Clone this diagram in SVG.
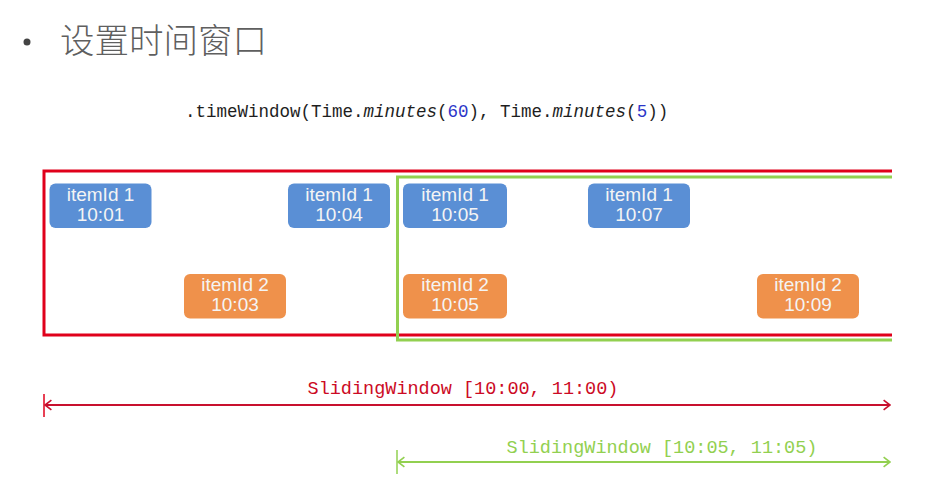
<svg xmlns="http://www.w3.org/2000/svg" width="947" height="483" viewBox="0 0 947 483">
<defs>
<style>
.title{font-family:"Noto Sans CJK SC","Noto Sans",sans-serif;font-size:34.5px;fill:#5f5f5f;font-weight:300}
.code{font-family:"Liberation Mono","DejaVu Sans Mono",monospace;font-size:17.5px;fill:#1e1e1e}
.num{fill:#2b35c8}
.it{font-style:italic}
.box text{font-family:"Liberation Sans",Arial,sans-serif;font-size:19px;fill:#f4f4f4;text-anchor:middle}
.blue rect{fill:#5a8fd5}
.orange rect{fill:#ef914b}
.lbl{font-family:"Liberation Mono","DejaVu Sans Mono",monospace;font-size:18.5px}
</style>
<marker id="ar" viewBox="0 0 10 14" refX="9" refY="7" markerWidth="8" markerHeight="12" markerUnits="userSpaceOnUse" orient="auto-start-reverse">
<path d="M1,1 L9,7 L1,13" fill="none" stroke="#c8102e" stroke-width="2"/>
</marker>
<marker id="ag" viewBox="0 0 10 14" refX="9" refY="7" markerWidth="8" markerHeight="12" markerUnits="userSpaceOnUse" orient="auto-start-reverse">
<path d="M1,1 L9,7 L1,13" fill="none" stroke="#92d050" stroke-width="2"/>
</marker>
</defs>
<rect width="947" height="483" fill="#ffffff"/>

<g id="heading">
<circle cx="27" cy="42" r="3.5" fill="#444"/>
<text class="title" x="60" y="53">设置时间窗口</text>
</g>

<g id="code">
<text class="code" x="185" y="117">.timeWindow(Time.<tspan class="it">minutes</tspan>(<tspan class="num">60</tspan>), Time.<tspan class="it">minutes</tspan>(<tspan class="num">5</tspan>))</text>
</g>

<g id="window1">
<path d="M892,171 H44 V335 H892" fill="none" stroke="#e0001b" stroke-width="3"/>
</g>
<g id="window2">
<path d="M892,177 H397.5 V340 H892" fill="none" stroke="#92d050" stroke-width="3"/>
</g>

<g id="e1" class="box blue"><rect x="49.5" y="183.5" width="102" height="44.5" rx="6"/><text x="100.5" y="201">itemId 1</text><text x="100.5" y="221">10:01</text></g>
<g id="e2" class="box blue"><rect x="288" y="183.5" width="102" height="44.5" rx="6"/><text x="339" y="201">itemId 1</text><text x="339" y="221">10:04</text></g>
<g id="e3" class="box blue"><rect x="403" y="183.5" width="104" height="44.5" rx="6"/><text x="455" y="201">itemId 1</text><text x="455" y="221">10:05</text></g>
<g id="e4" class="box blue"><rect x="588" y="183.5" width="102" height="44.5" rx="6"/><text x="639" y="201">itemId 1</text><text x="639" y="221">10:07</text></g>
<g id="e5" class="box orange"><rect x="184" y="274" width="102" height="44.5" rx="6"/><text x="235" y="291">itemId 2</text><text x="235" y="311">10:03</text></g>
<g id="e6" class="box orange"><rect x="403" y="274" width="104" height="44.5" rx="6"/><text x="455" y="291">itemId 2</text><text x="455" y="311">10:05</text></g>
<g id="e7" class="box orange"><rect x="757" y="274" width="102" height="44.5" rx="6"/><text x="808" y="291">itemId 2</text><text x="808" y="311">10:09</text></g>

<g id="connectors">
<line x1="44" y1="394" x2="44" y2="417" stroke="#e0001b" stroke-width="1.5"/>
<line x1="45" y1="405" x2="890" y2="405" stroke="#c8102e" stroke-width="2" marker-start="url(#ar)" marker-end="url(#ar)"/>
<text class="lbl" x="463" y="394" text-anchor="middle" fill="#cc0a24">SlidingWindow [10:00, 11:00)</text>
<line x1="397" y1="450" x2="397" y2="474" stroke="#92d050" stroke-width="1.5"/>
<line x1="398" y1="462" x2="890" y2="462" stroke="#92d050" stroke-width="2" marker-start="url(#ag)" marker-end="url(#ag)"/>
<text class="lbl" x="662" y="453" text-anchor="middle" fill="#92d050">SlidingWindow [10:05, 11:05)</text>
</g>
</svg>
